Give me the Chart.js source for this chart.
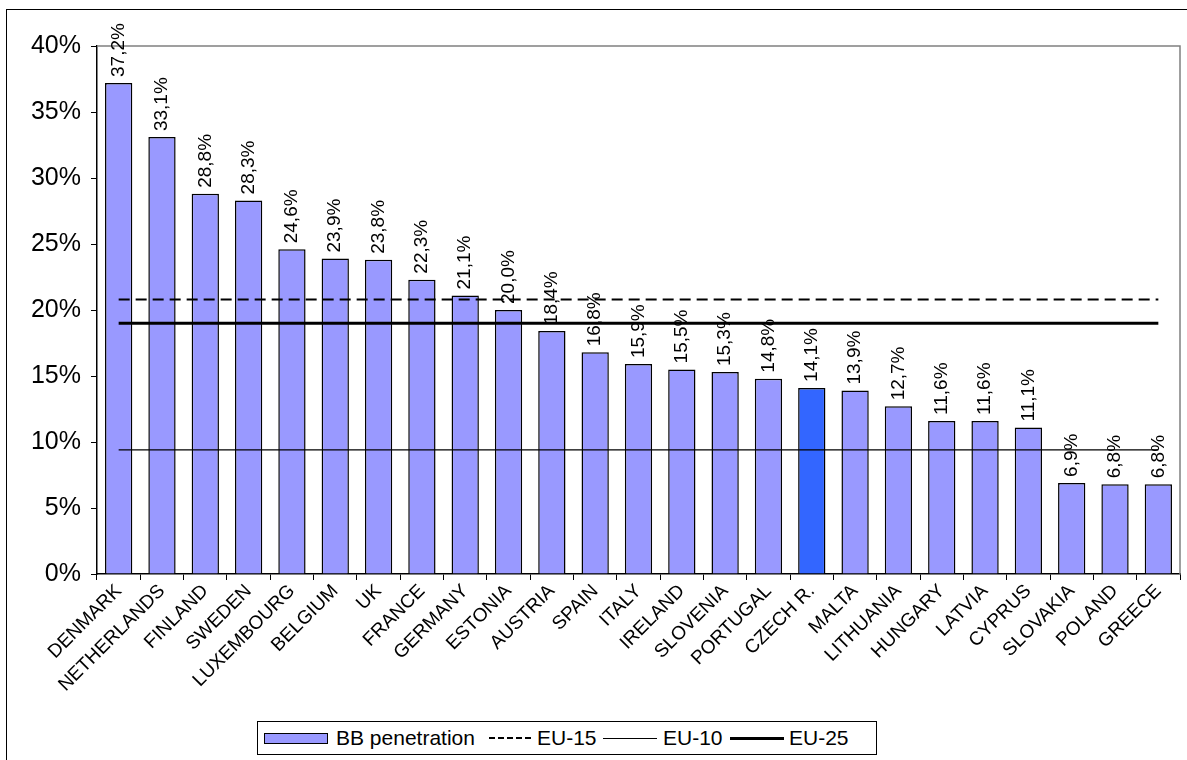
<!DOCTYPE html>
<html>
<head>
<meta charset="utf-8">
<script src="https://cdn.jsdelivr.net/npm/chart.js@4.4.1/dist/chart.umd.min.js"></script>
<style>
  html, body { margin: 0; padding: 0; background: #fff; overflow: hidden; }
  body { width: 1187px; height: 760px; position: relative; font-family: Arial, "Liberation Sans", sans-serif; }
  #frame { position: absolute; left: 6px; top: 9px; width: 1200px; height: 800px; border: 1px solid #000; box-sizing: border-box; }
  #wrap { position: absolute; left: 0; top: 0; width: 1187px; height: 760px; }
  #legend { position: absolute; left: 257px; top: 721px; width: 620px; height: 34px; border: 1px solid #000;
            box-sizing: border-box; background: #fff; font-size: 21px; color: #000; }
  #legend .it { position: absolute; top: 0; height: 32px; line-height: 32px; white-space: nowrap; }
  #legend .sw { position: absolute; }
</style>
</head>
<body>
<div id="wrap"><canvas id="chart" width="1187" height="760"></canvas></div>
<div id="frame"></div>
<div id="legend">
  <div class="sw" style="left:6px;top:11px;width:62px;height:9px;background:#9999ff;border:1px solid #000;"></div>
  <div class="it" style="left:78px;">BB penetration</div>
  <div class="sw" style="left:231px;top:15px;width:42px;border-top:2px dashed #000;"></div>
  <div class="it" style="left:279px;">EU-15</div>
  <div class="sw" style="left:345px;top:16px;width:54px;border-top:1px solid #000;"></div>
  <div class="it" style="left:405px;">EU-10</div>
  <div class="sw" style="left:472px;top:15px;width:54px;border-top:3px solid #000;"></div>
  <div class="it" style="left:531px;">EU-25</div>
</div>
<script>
// broadband penetration by country
var countries = ['DENMARK', 'NETHERLANDS', 'FINLAND', 'SWEDEN', 'LUXEMBOURG', 'BELGIUM', 'UK', 'FRANCE',
    'GERMANY', 'ESTONIA', 'AUSTRIA', 'SPAIN', 'ITALY', 'IRELAND', 'SLOVENIA', 'PORTUGAL', 'CZECH R.',
    'MALTA', 'LITHUANIA', 'HUNGARY', 'LATVIA', 'CYPRUS', 'SLOVAKIA', 'POLAND', 'GREECE'];
var penetration = [37.2, 33.1, 28.8, 28.3, 24.6, 23.9, 23.8, 22.3, 21.1, 20.0, 18.4, 16.8, 15.9,
    15.5, 15.3, 14.8, 14.1, 13.9, 12.7, 11.6, 11.6, 11.1, 6.9, 6.8, 6.8];
var eu15 = 20.8;
var eu10 = 9.4;
var eu25 = 19.0;
var highlight = 'CZECH R.';
var yTicks = [0, 5, 10, 15, 20, 25, 30, 35, 40];

var barColors = countries.map(function (c) { return c === highlight ? '#3366ff' : '#9999ff'; });

function flat(v) { return countries.map(function () { return v; }); }

var plotFrame = {
    id: 'plotFrame',
    beforeDatasetsDraw: function (chart) {
        var a = chart.chartArea, ctx = chart.ctx;
        ctx.save();
        ctx.strokeStyle = '#808080';
        ctx.lineWidth = 1.5;
        ctx.beginPath();
        ctx.moveTo(a.left, a.top);
        ctx.lineTo(a.right, a.top);
        ctx.lineTo(a.right, a.bottom);
        ctx.stroke();
        ctx.restore();
    }
};

var barLabels = {
    id: 'barLabels',
    afterDatasetsDraw: function (chart) {
        var ctx = chart.ctx;
        var meta = chart.getDatasetMeta(0);
        ctx.save();
        ctx.fillStyle = '#000';
        ctx.font = '19px Arial, "Liberation Sans", sans-serif';
        ctx.textAlign = 'left';
        ctx.textBaseline = 'middle';
        meta.data.forEach(function (bar, i) {
            ctx.save();
            ctx.translate(bar.x, bar.y - 6);
            ctx.rotate(-Math.PI / 2);
            ctx.fillText(penetration[i].toFixed(1).replace('.', ',') + '%', 0, 0);
            ctx.restore();
        });
        ctx.restore();
    }
};

new Chart(document.getElementById('chart'), {
    type: 'bar',
    data: {
        labels: countries,
        datasets: [
            { label: 'BB penetration', data: penetration, backgroundColor: barColors, borderColor: '#000',
              borderWidth: 1.5, categoryPercentage: 1, barPercentage: 0.63, order: 2 },
            { type: 'line', label: 'EU-15', data: flat(eu15), borderColor: '#000', borderWidth: 2,
              borderDash: [11, 6], pointRadius: 0, fill: false, order: 1 },
            { type: 'line', label: 'EU-10', data: flat(eu10), borderColor: '#000', borderWidth: 1.2,
              pointRadius: 0, fill: false, order: 1 },
            { type: 'line', label: 'EU-25', data: flat(eu25), borderColor: '#000', borderWidth: 3,
              pointRadius: 0, fill: false, order: 1 }
        ]
    },
    options: {
        responsive: false,
        animation: false,
        layout: { padding: { top: 46, right: 7, left: 0, bottom: 0 } },
        plugins: { legend: { display: false }, tooltip: { enabled: false } },
        scales: {
            x: {
                afterFit: function (s) { s.height = 186; },
                grid: { display: true, drawOnChartArea: false, offset: true, tickLength: 6, color: '#000' },
                border: { color: '#000', width: 1.5 },
                ticks: { autoSkip: false, minRotation: 45, maxRotation: 45, padding: 0, color: '#000',
                         font: { family: 'Arial, "Liberation Sans", sans-serif', size: 19 } }
            },
            y: {
                min: 0, max: 40,
                afterFit: function (s) { s.width = 97; },
                afterBuildTicks: function (s) { s.ticks = yTicks.map(function (v) { return { value: v }; }); },
                grid: { display: true, drawOnChartArea: false, tickLength: 6, color: '#000' },
                border: { color: '#000', width: 1.5 },
                ticks: { padding: 10, color: '#000', callback: function (v) { return v + '%'; },
                         font: { family: 'Arial, "Liberation Sans", sans-serif', size: 25 } }
            }
        }
    },
    plugins: [plotFrame, barLabels]
});
</script>
</body>
</html>
